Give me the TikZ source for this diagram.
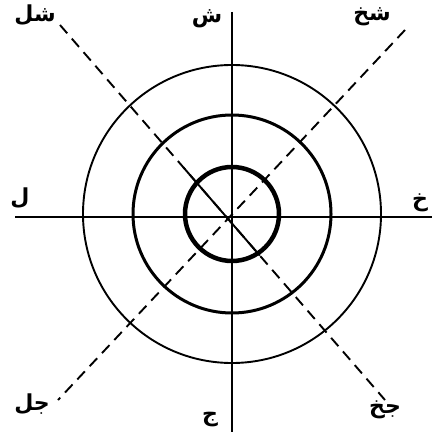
\documentclass[tikz,border=0pt]{standalone}
\usepackage{fontspec}
\newfontfamily\arabicfont[Script=Arabic]{DejaVu Sans}
\TeXXeTstate=1
\usetikzlibrary{calc}
\tikzset{
  axis/.style={line width=1.9pt, black},
  diag/.style={line width=1.9pt, black, dash pattern=on 11pt off 7pt},
  ring1/.style={line width=1.9pt, draw=black},
  ring2/.style={line width=3pt, draw=black},
  ring3/.style={line width=4.5pt, draw=black},
  lbl/.style={font=\arabicfont\bfseries\fontsize{22}{26}\selectfont, inner sep=0pt}
}
\begin{document}
\begin{tikzpicture}[x=1pt,y=-1pt]
\useasboundingbox (0,0) rectangle (432,435);
% coordinates
\coordinate (c) at (232,214);
\coordinate (top) at (232,12);
\coordinate (bot) at (232,432);
\coordinate (left) at (15,217);
\coordinate (right) at (432,217);
\coordinate (nw) at (60,25);
\coordinate (se) at (385,400);
\coordinate (ne) at (405,30);
\coordinate (sw) at (58,400);
% circles
\draw[ring1] (c) circle (149);
\draw[ring2] (c) circle (99);
\draw[ring3] (c) circle (47);
% axes
\draw[axis] (top) -- (bot);
\draw[axis] (left) -- (right);
% diagonals
\draw[diag] (nw) -- (se);
\draw[axis] ($(nw)!0.38!(se)$) -- ($(nw)!0.615!(se)$);
\draw[diag] (ne) -- (sw);
% labels
\node[lbl] (n) at (207,19) {\beginR ش\endR};
\node[lbl] (s) at (210,420) {\beginR ج\endR};
\node[lbl] (w) at (20,198) {\beginR ل\endR};
\node[lbl] (e) at (420,203) {\beginR خ\endR};
\node[lbl] (nwl) at (35,15) {\beginR شل\endR};
\node[lbl] (nel) at (372,17) {\beginR شخ\endR};
\node[lbl] (swl) at (32,404) {\beginR جل\endR};
\node[lbl] (sel) at (385,410) {\beginR جخ\endR};
\end{tikzpicture}
\end{document}
